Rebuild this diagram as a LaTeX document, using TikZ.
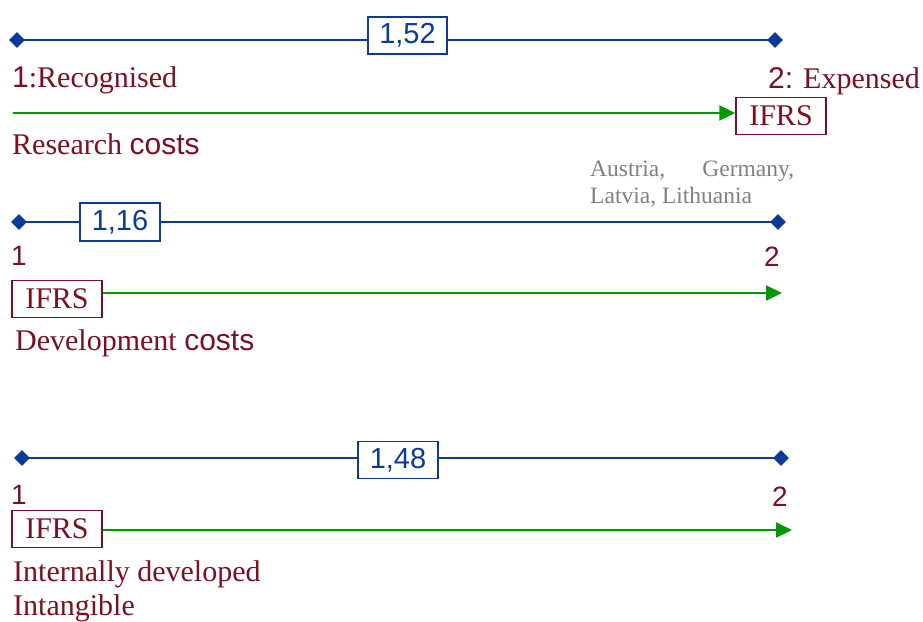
\documentclass[tikz,border=0pt]{standalone}
\usepackage{fontspec}
\setmainfont{Liberation Serif}
\newfontfamily\arial{Liberation Sans}
\usetikzlibrary{arrows.meta,shapes.geometric}
\definecolor{cblue}{HTML}{0B3A9A}
\definecolor{cred}{HTML}{7B1020}
\definecolor{cgreen}{HTML}{009A00}
\definecolor{cgray}{HTML}{808080}
\tikzset{
  dia/.style={diamond,fill=cblue,draw=none,inner sep=0pt,minimum width=16pt,minimum height=16pt},
  bline/.style={draw=cblue,line width=2pt},
  valbox/.style={draw=cblue,line width=1.5pt,fill=white,inner sep=0pt,text=cblue,font=\arial\fontsize{29}{31}\selectfont},
  ifrsbox/.style={draw=cred,line width=1.5pt,fill=white,inner sep=0pt,text=cred,minimum width=90pt,minimum height=37pt,font=\fontsize{30}{34}\selectfont},
  garrow/.style={draw=cgreen,line width=2pt,-{Triangle[length=16pt,width=15pt]}},
  lbl/.style={inner sep=0pt,text=cred,font=\fontsize{30}{34}\selectfont},
  num/.style={inner sep=0pt,text=cred,font=\arial\fontsize{28}{30}\selectfont},
}
\begin{document}
\begin{tikzpicture}[x=1pt,y=-1pt]
\useasboundingbox (0,0) rectangle (923,621);
% ---- Row 1: Research costs
\node[dia] (a1) at (17,40) {};
\node[dia] (a2) at (775,40) {};
\draw[bline] (a1.center) -- (a2.center);
\node[valbox,minimum width=79pt,minimum height=37pt] (v1) at (407.5,35.5) {1,52};
\node[lbl,anchor=base west] (r1) at (12,87) {{\arial 1}:Recognised};
\node[lbl,anchor=base east] (e1) at (920,88) {{\arial 2:} Expensed};
\node[ifrsbox] (i1) at (781,116) {IFRS};
\coordinate (g1) at (13,113);
\draw[garrow] (g1) -- (i1.west|-g1);
\node[lbl,anchor=base west] (t1) at (12,154) {Research {\arial costs}};
% ---- gray note
\node[inner sep=0pt,anchor=north west,align=left,text=cgray,font=\fontsize{23.5}{27}\selectfont] (note) at (590,161) {\hbox to 204pt{Austria,\hfill Germany,}\\Latvia, Lithuania};
% ---- Row 2: Development costs
\node[dia] (b1) at (19,222) {};
\node[dia] (b2) at (778,222) {};
\draw[bline] (b1.center) -- (b2.center);
\node[valbox,minimum width=80pt,minimum height=38pt] (v2) at (120,222) {1,16};
\node[num,anchor=base west] (n21) at (11,265) {1};
\node[num,anchor=base west] (n22) at (764,266) {2};
\node[ifrsbox] (i2) at (57,299) {IFRS};
\coordinate (g2) at (782,293);
\draw[garrow] (i2.east|-g2) -- (g2);
\node[lbl,anchor=base west] (t2) at (15,350) {Development {\arial costs}};
% ---- Row 3: Internally developed intangible
\node[dia] (c1) at (22,458) {};
\node[dia] (c2) at (781,458) {};
\draw[bline] (c1.center) -- (c2.center);
\node[valbox,minimum width=80pt,minimum height=37pt] (v3) at (398,460) {1,48};
\node[num,anchor=base west] (n31) at (11,504) {1};
\node[num,anchor=base west] (n32) at (772,506) {2};
\node[ifrsbox] (i3) at (57,529) {IFRS};
\coordinate (g3) at (792,530);
\draw[garrow] (i3.east|-g3) -- (g3);
\node[lbl,anchor=base west] (t3) at (13,581) {Internally developed};
\node[lbl,anchor=base west] (t4) at (13,615) {Intangible};
\end{tikzpicture}
\end{document}
